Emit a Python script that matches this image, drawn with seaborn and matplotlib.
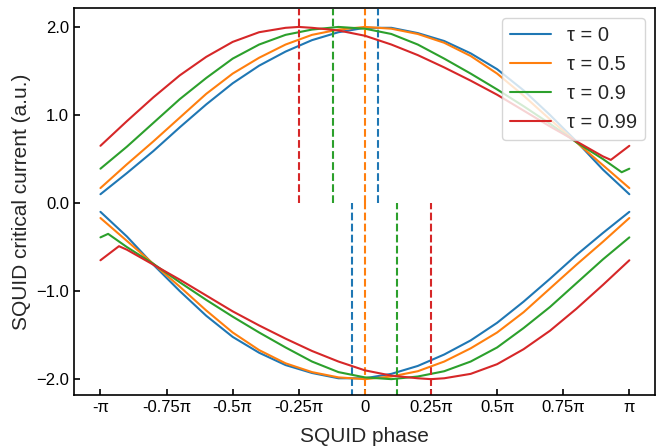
import numpy as np
import pandas as pd
import matplotlib
matplotlib.use("Agg")
import matplotlib.pyplot as plt
import seaborn as sns

# ---------------- data (phase in units of pi) ----------------
tau_labels = ["τ = 0", "τ = 0.5", "τ = 0.9", "τ = 0.99"]
colors = ["#1f77b4", "#ff7f0e", "#2ca02c", "#d62728"]

grid = [-1.0, -0.9, -0.8, -0.7, -0.6, -0.5, -0.4, -0.3, -0.2, -0.1, 0.0,
        0.1, 0.2, 0.3, 0.4, 0.5, 0.6, 0.7, 0.8, 0.9, 1.0]

# tau = 0
blue_pos_x = grid
blue_pos = [0.10, 0.34, 0.59, 0.86, 1.12, 1.36, 1.56, 1.72, 1.85, 1.94, 1.99,
            1.99, 1.93, 1.84, 1.70, 1.52, 1.28, 1.00, 0.70, 0.38, 0.10]
blue_neg_x = grid
blue_neg = [-0.10, -0.38, -0.70, -1.00, -1.28, -1.52, -1.70, -1.84, -1.93, -1.99, -1.99,
            -1.94, -1.85, -1.72, -1.56, -1.36, -1.12, -0.86, -0.59, -0.34, -0.10]

# tau = 0.5
orange_pos_x = grid
orange_pos = [0.17, 0.44, 0.70, 0.97, 1.24, 1.47, 1.65, 1.80, 1.91, 1.97, 2.00,
              1.98, 1.92, 1.82, 1.67, 1.47, 1.22, 0.95, 0.69, 0.43, 0.17]
orange_neg_x = grid
orange_neg = [-0.17, -0.43, -0.69, -0.95, -1.22, -1.47, -1.67, -1.82, -1.92, -1.98, -2.00,
              -1.97, -1.91, -1.80, -1.65, -1.47, -1.24, -0.97, -0.70, -0.44, -0.17]

# tau = 0.9
green_pos_x = [-1.0, -0.9, -0.8, -0.7, -0.6, -0.5, -0.4, -0.3, -0.2, -0.1, 0.0,
               0.1, 0.2, 0.3, 0.4, 0.5, 0.6, 0.7, 0.8, 0.9, 0.971, 1.0]
green_pos = [0.39, 0.64, 0.91, 1.18, 1.42, 1.64, 1.80, 1.91, 1.97, 2.00, 1.98,
             1.92, 1.80, 1.64, 1.47, 1.29, 1.10, 0.90, 0.69, 0.50, 0.35, 0.39]
green_neg_x = [-1.0, -0.971, -0.9, -0.8, -0.7, -0.6, -0.5, -0.4, -0.3, -0.2, -0.1, 0.0,
               0.1, 0.2, 0.3, 0.4, 0.5, 0.6, 0.7, 0.8, 0.9, 1.0]
green_neg = [-0.39, -0.35, -0.50, -0.69, -0.90, -1.10, -1.29, -1.47, -1.64, -1.80, -1.92, -1.98,
             -2.00, -1.97, -1.91, -1.80, -1.64, -1.42, -1.18, -0.91, -0.64, -0.39]

# tau = 0.99
red_pos_x = [-1.0, -0.9, -0.8, -0.7, -0.6, -0.5, -0.4, -0.3, -0.25, -0.2, -0.1, 0.0,
             0.1, 0.2, 0.3, 0.4, 0.5, 0.6, 0.7, 0.8, 0.9, 0.93, 1.0]
red_pos = [0.65, 0.93, 1.20, 1.45, 1.66, 1.83, 1.94, 1.99, 2.00, 1.99, 1.96, 1.90,
           1.80, 1.68, 1.54, 1.39, 1.23, 1.05, 0.87, 0.70, 0.53, 0.49, 0.65]
red_neg_x = [-1.0, -0.93, -0.9, -0.8, -0.7, -0.6, -0.5, -0.4, -0.3, -0.2, -0.1, 0.0,
             0.1, 0.2, 0.25, 0.3, 0.4, 0.5, 0.6, 0.7, 0.8, 0.9, 1.0]
red_neg = [-0.65, -0.49, -0.53, -0.70, -0.87, -1.05, -1.23, -1.39, -1.54, -1.68, -1.80, -1.90,
           -1.96, -1.99, -2.00, -1.99, -1.94, -1.83, -1.66, -1.45, -1.20, -0.93, -0.65]

# phase of the branch extrema (dashed markers), units of pi
peak_pos = [0.05, 0.0, -0.12, -0.25]
peak_neg = [-0.05, 0.0, 0.12, 0.25]

xtick_pos = [-1.0, -0.75, -0.5, -0.25, 0.0, 0.25, 0.5, 0.75, 1.0]
xtick_labels = ["-π", "-0.75π", "-0.5π", "-0.25π", "0", "0.25π", "0.5π", "0.75π", "π"]
ytick_pos = [-2.0, -1.0, 0.0, 1.0, 2.0]
ytick_labels = ["−2.0", "−1.0", "0.0", "1.0", "2.0"]

pos_curves = [(blue_pos_x, blue_pos), (orange_pos_x, orange_pos),
              (green_pos_x, green_pos), (red_pos_x, red_pos)]
neg_curves = [(blue_neg_x, blue_neg), (orange_neg_x, orange_neg),
              (green_neg_x, green_neg), (red_neg_x, red_neg)]

# ---------------- plot ----------------
sns.set_style("ticks")
plt.rcParams['font.family'] = ['Liberation Sans', 'DejaVu Sans']

fig = plt.figure(figsize=(6.56, 4.47), dpi=100)
ax = fig.add_axes([74 / 656, 1 - 395 / 447, (655 - 74) / 656, (395 - 8) / 447])

YMAX = 2.2
for i in range(4):
    px, py = pos_curves[i]
    nx, ny = neg_curves[i]
    sns.lineplot(x=np.array(px) * np.pi, y=py, color=colors[i], lw=1.5,
                 label=tau_labels[i], sort=False, estimator=None, ax=ax)
    sns.lineplot(x=np.array(nx) * np.pi, y=ny, color=colors[i], lw=1.5,
                 sort=False, estimator=None, ax=ax, legend=False)
    ax.vlines(peak_pos[i] * np.pi, 0, YMAX, colors=colors[i], linestyles='--', lw=1.5)
    ax.vlines(peak_neg[i] * np.pi, -YMAX, 0, colors=colors[i], linestyles='--', lw=1.5)

ax.set_xlim(-1.1 * np.pi, 1.097 * np.pi)
ax.set_ylim(-2.18, 2.215)
ax.set_xticks(np.array(xtick_pos) * np.pi)
ax.set_xticklabels(xtick_labels)
ax.set_yticks(ytick_pos)
ax.set_yticklabels(ytick_labels)
ax.tick_params(direction='in', top=False, right=False, labelsize=12,
               length=4, width=1.2, colors='black')
for s in ax.spines.values():
    s.set_visible(True)
    s.set_linewidth(1.2)
    s.set_color('black')

ax.set_xlabel("SQUID phase", fontsize=15, labelpad=9)
ax.set_ylabel("SQUID critical current (a.u.)", fontsize=15)
ax.legend(loc='upper right', fontsize=14.5)

fig.savefig("out.png", dpi=100)
